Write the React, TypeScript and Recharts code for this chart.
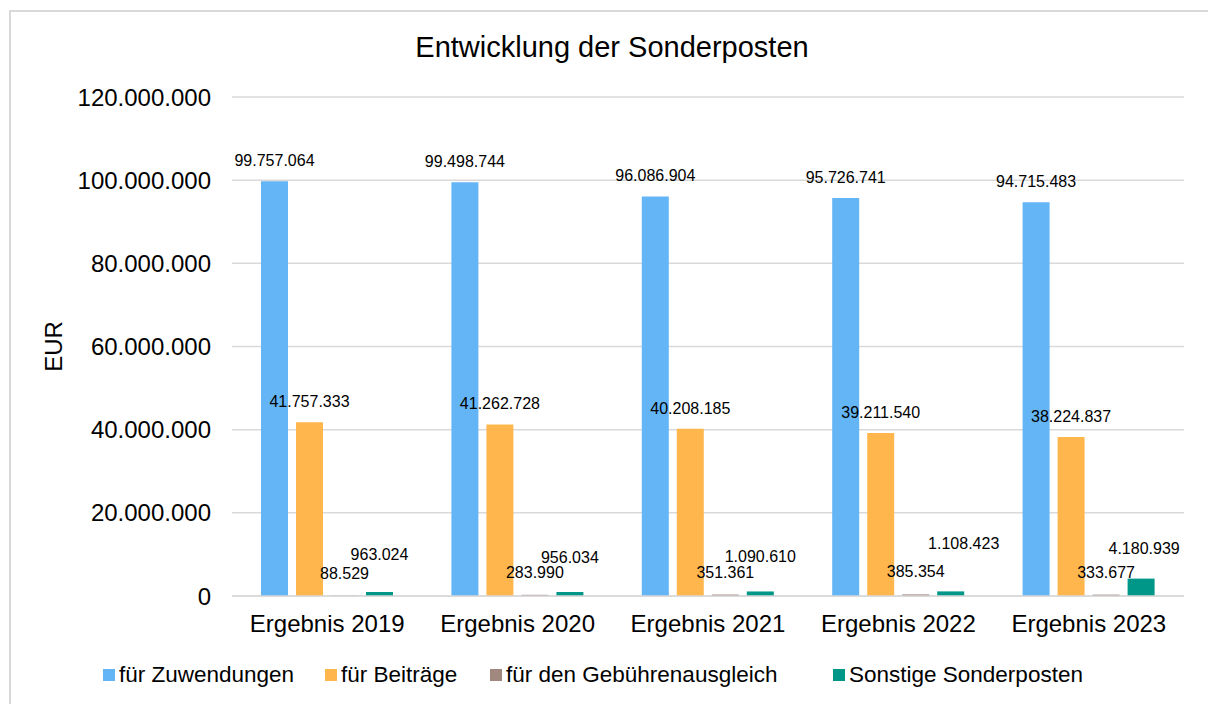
import React from "react";
import {
  BarChart,
  Bar,
  XAxis,
  YAxis,
  CartesianGrid,
  LabelList,
} from "recharts";

// Sonderposten 2019–2023, four series per year, EUR.

const CATEGORIES = [
  "Ergebnis 2019",
  "Ergebnis 2020",
  "Ergebnis 2021",
  "Ergebnis 2022",
  "Ergebnis 2023",
];
const ZUWENDUNGEN = [99757064, 99498744, 96086904, 95726741, 94715483];
const BEITRAEGE = [41757333, 41262728, 40208185, 39211540, 38224837];
const GEBUEHREN = [88529, 283990, 351361, 385354, 333677];
const SONSTIGE = [963024, 956034, 1090610, 1108423, 4180939];
const Y_TICKS = [0, 20000000, 40000000, 60000000, 80000000, 100000000, 120000000];

const SERIES = [
  { key: "zuw", name: "für Zuwendungen", color: "#64B5F6", labelOffset: 15 },
  { key: "bei", name: "für Beiträge", color: "#FFB74D", labelOffset: 15 },
  { key: "geb", name: "für den Gebührenausgleich", color: "#A1887F", labelOffset: 17 },
  { key: "son", name: "Sonstige Sonderposten", color: "#009688", labelOffset: 31 },
];

// the original moved a few "Sonstige" labels by hand: [dx, extra lift]
const SON_LABEL_NUDGE = [
  [0, 1],
  [0, -1.5],
  [0, -1.5],
  [13, 11],
  [3, -6],
];

// legend slot widths (square + text + gap), as in the original layout
const LEGEND_SLOTS = [222, 165, 343, 300];

const data = CATEGORIES.map((cat, i) => ({
  cat,
  zuw: ZUWENDUNGEN[i],
  bei: BEITRAEGE[i],
  geb: GEBUEHREN[i],
  son: SONSTIGE[i],
}));

const fmt = (v: any) =>
  String(Math.round(Number(v))).replace(/\B(?=(\d{3})+(?!\d))/g, ".");

const FONT = "Arial, 'Liberation Sans', sans-serif";
const GRID = "#d9d9d9";

function SonLabel(props: any) {
  const { x, y, width, value, index } = props;
  const [dx, lift] = SON_LABEL_NUDGE[index] || [0, 0];
  return (
    <text
      x={x + width / 2 + dx}
      y={y - 31 - lift}
      textAnchor="middle"
      fontSize={16}
      fill="#000"
    >
      {fmt(value)}
    </text>
  );
}

export default function App() {
  return (
    <div
      style={{
        position: "fixed",
        left: 0,
        top: 0,
        width: 1208,
        height: 704,
        fontFamily: FONT,
        color: "#000",
        background: "#fff",
        overflow: "hidden",
      }}
    >
      {/* chart frame: only its top and left edges fall inside the picture */}
      <div
        style={{
          position: "absolute",
          left: 9,
          top: 10,
          width: 1199,
          height: 2,
          background: GRID,
        }}
      />
      <div
        style={{
          position: "absolute",
          left: 9,
          top: 10,
          width: 2,
          height: 694,
          background: GRID,
        }}
      />
      <div
        style={{
          position: "absolute",
          left: 8,
          width: 1208,
          top: 33,
          lineHeight: "29px",
          fontSize: 29,
          textAlign: "center",
        }}
      >
        Entwicklung der Sonderposten
      </div>

      <BarChart
        width={1208}
        height={704}
        data={data}
        margin={{ top: 97, right: 24, left: 0, bottom: 68 }}
        barGap={8}
        style={{ position: "absolute", left: 0, top: 0 }}
      >
        <CartesianGrid vertical={false} stroke={GRID} strokeWidth={1.5} />
        <XAxis
          dataKey="cat"
          interval={0}
          height={40}
          tickLine={false}
          tickSize={6}
          tickMargin={13}
          axisLine={{ stroke: GRID, strokeWidth: 1.5 }}
          tick={{ fontSize: 24, fill: "#000" }}
        />
        <YAxis
          width={232}
          domain={[0, 120000000]}
          ticks={Y_TICKS}
          interval={0}
          tickFormatter={fmt}
          axisLine={false}
          tickLine={false}
          tickSize={6}
          tickMargin={15}
          tick={{ fontSize: 24, fill: "#000" }}
          label={{
            value: "EUR",
            angle: -90,
            position: "insideLeft",
            offset: 53,
            style: { textAnchor: "middle", fontSize: 24, fill: "#000" },
          }}
        />
        {SERIES.map((s) => (
          <Bar
            key={s.key}
            dataKey={s.key}
            name={s.name}
            fill={s.color}
            barSize={27}
            isAnimationActive={false}
          >
            {s.key === "son" ? (
              <LabelList dataKey={s.key} content={SonLabel} />
            ) : (
              <LabelList
                dataKey={s.key}
                position="top"
                offset={s.labelOffset}
                formatter={fmt}
                style={{ fontSize: 16, fill: "#000" }}
              />
            )}
          </Bar>
        ))}
      </BarChart>

      <div
        style={{
          position: "absolute",
          left: 103,
          top: 663,
          height: 24,
          display: "flex",
          alignItems: "center",
          fontSize: 22.5,
          whiteSpace: "nowrap",
        }}
      >
        {SERIES.map((s, i) => (
          <div
            key={s.key}
            style={{ display: "flex", alignItems: "center", width: LEGEND_SLOTS[i] }}
          >
            <span
              style={{
                display: "inline-block",
                width: 12,
                height: 12,
                background: s.color,
                marginRight: 4,
                flex: "none",
              }}
            />
            <span>{s.name}</span>
          </div>
        ))}
      </div>
    </div>
  );
}
